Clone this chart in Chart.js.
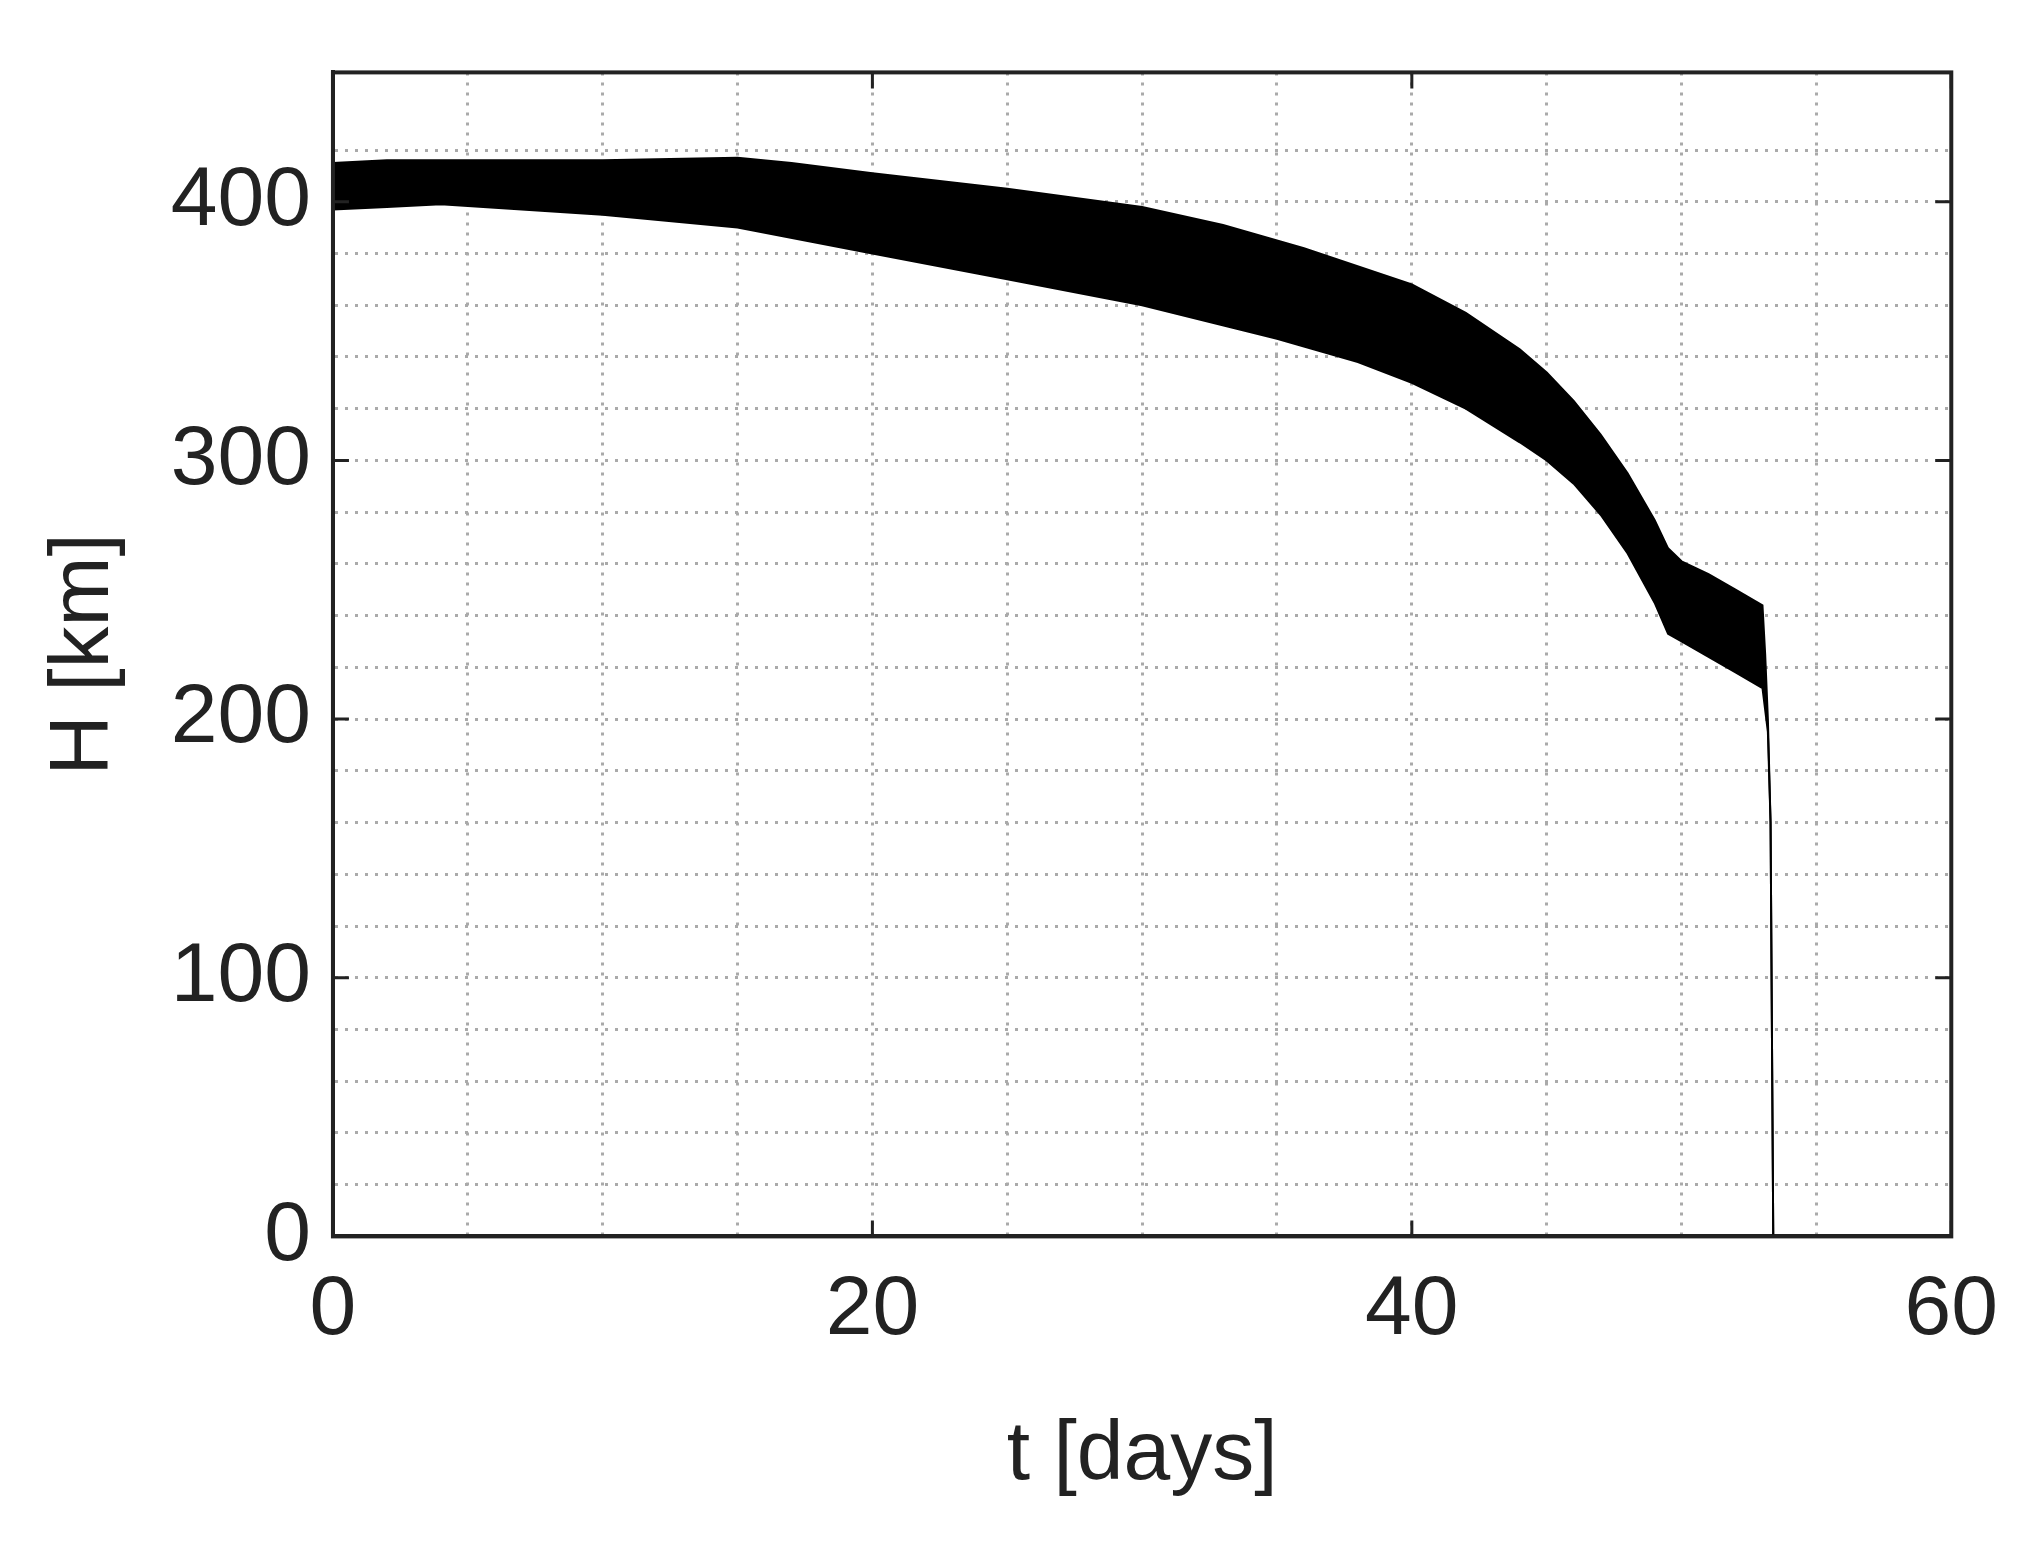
<!DOCTYPE html>
<html><head><meta charset="utf-8">
<script src="https://cdn.jsdelivr.net/npm/chart.js@4/dist/chart.umd.min.js"></script>
<style>body{margin:0;background:#fff}</style>
</head><body>
<canvas id="chart" width="2022" height="1560"></canvas>
<script>
// envelope of the altitude band
var tUpper = [0, 2, 5, 10, 15, 17, 20, 25, 30, 33, 36, 40, 42, 44, 45, 46, 47, 48, 49, 49.5, 50, 51, 52, 53, 53.1, 53.2, 53.3, 53.4];
var hUpper = [415, 416, 416, 416, 417, 415, 411, 405, 398, 391, 382, 368, 357, 343, 334, 323, 310, 295, 277, 266, 261, 256, 250, 244, 225, 200, 160, 0];
var tLower = [0, 2, 4, 10, 15, 20, 25, 30, 35, 38, 40, 42, 44, 45, 46, 47, 48, 49, 49.5, 50, 51, 52, 53, 53.2, 53.3, 53.4];
var hLower = [397, 398, 399, 395, 390, 380, 370, 360, 347, 338, 330, 320, 307, 300, 291, 279, 264, 245, 233, 230, 224, 218, 212, 195, 160, 0];
var xTicks = [0, 20, 40, 60];
var yTicks = [0, 100, 200, 300, 400];

function pts(xs, ys) {
    return xs.map(function (x, i) { return {x: x, y: ys[i]}; });
}

var boxPlugin = {
    id: 'box',
    afterDraw: function (c) {
        var a = c.chartArea, ctx = c.ctx;
        ctx.save();
        ctx.strokeStyle = '#222';
        ctx.lineWidth = 4;
        ctx.strokeRect(a.left, a.top, a.right - a.left, a.bottom - a.top);
        // inward tick marks like the original
        ctx.lineWidth = 3;
        var xs = c.scales.x, ys = c.scales.y;
        xTicks.forEach(function (v) {
            var p = xs.getPixelForValue(v);
            ctx.beginPath(); ctx.moveTo(p, a.bottom); ctx.lineTo(p, a.bottom - 16);
            ctx.moveTo(p, a.top); ctx.lineTo(p, a.top + 16); ctx.stroke();
        });
        yTicks.forEach(function (v) {
            var p = ys.getPixelForValue(v);
            ctx.beginPath(); ctx.moveTo(a.left, p); ctx.lineTo(a.left + 16, p);
            ctx.moveTo(a.right, p); ctx.lineTo(a.right - 16, p); ctx.stroke();
        });
        ctx.restore();
    }
};

var font = {family: 'Liberation Sans', size: 84};
var grid = {color: '#aaa', lineWidth: 3, drawTicks: false};
var border = {display: true, color: '#222', width: 4, dash: [3, 7]};

var chart = new Chart(document.getElementById('chart').getContext('2d'), {
    type: 'line',
    data: {
        datasets: [
            {data: pts(tUpper, hUpper), borderColor: '#000', backgroundColor: '#000', borderWidth: 2, pointRadius: 0, fill: '+1', tension: 0},
            {data: pts(tLower, hLower), borderColor: '#000', backgroundColor: '#000', borderWidth: 2, pointRadius: 0, fill: false, tension: 0}
        ]
    },
    options: {
        responsive: false,
        animation: false,
        layout: {padding: {left: 30, right: 60, top: 43, bottom: 50}},
        plugins: {legend: {display: false}, tooltip: {enabled: false}},
        scales: {
            x: {
                type: 'linear', min: 0, max: 60,
                grid: grid, border: border,
                ticks: {stepSize: 5, font: font, color: '#222', padding: 24,
                    callback: function (v) { return v % 20 === 0 ? v : ''; }},
                title: {display: true, text: 't [days]', font: font, color: '#222', padding: {top: 20}}
            },
            y: {
                min: 0, max: 450,
                grid: grid, border: border,
                ticks: {stepSize: 20, font: font, color: '#222', padding: 22, autoSkip: false,
                    callback: function (v) { return v % 100 === 0 ? v : ''; }},
                title: {display: true, text: 'H [km]', font: font, color: '#222', padding: {bottom: 14}}
            }
        }
    },
    plugins: [boxPlugin]
});
</script>
</body></html>
